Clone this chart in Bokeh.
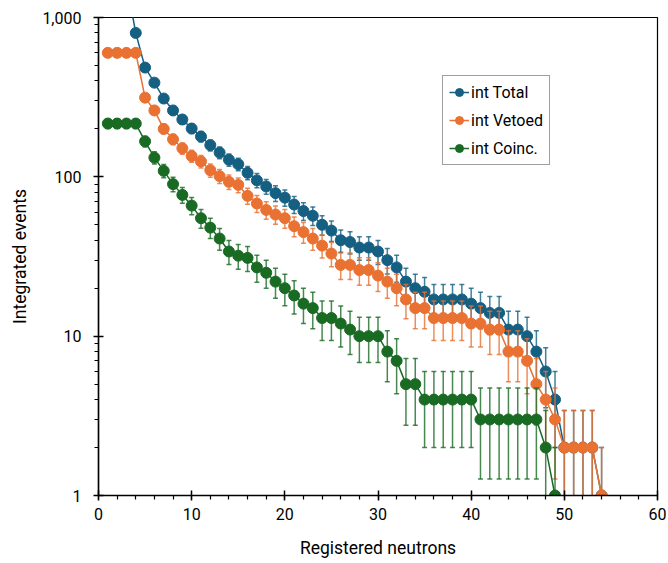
import math
from bokeh.plotting import figure
from bokeh.models import (ColumnDataSource, Range1d, SingleIntervalTicker, FixedTicker,
                          NumeralTickFormatter, Legend, LegendItem)
from bokeh.embed import file_html
from bokeh.resources import INLINE

# ---------------- data ----------------
x_total = list(range(1, 55))
total = [1650, 1650, 1650, 800, 485, 390, 310, 261, 229, 201,
         179, 158, 142, 128, 120, 106, 95, 87, 79, 74,
         67, 61, 57, 50, 46, 40, 39, 36, 36, 34,
         30, 27, 22, 20, 19, 17, 17, 17, 17, 16,
         15, 14, 14, 11, 11, 10, 8, 6, 4, 2,
         2, 2, 2, 1]

x_vetoed = list(range(1, 55))
vetoed = [600, 600, 600, 600, 314, 261, 200, 172, 151, 135,
          125, 110, 101, 93, 89, 76, 68, 62, 58, 55,
          49, 45, 41, 37, 33, 28, 28, 26, 26, 24,
          22, 20, 17, 15, 15, 13, 13, 13, 13, 12,
          12, 11, 11, 8, 8, 7, 5, 4, 3, 2,
          2, 2, 2, 1]

x_coinc = list(range(1, 50))
coinc = [216, 216, 216, 216, 167, 132, 109, 90, 77, 66,
         55, 48, 41, 34, 32, 31, 27, 25, 22, 20,
         18, 16, 15, 13, 13, 12, 11, 10, 10, 10,
         8, 7, 5, 5, 4, 4, 4, 4, 4, 4,
         3, 3, 3, 3, 3, 3, 3, 2, 1]

labels = ["int Total", "int Vetoed", "int Coinc."]
colors = ["#156082", "#E97132", "#196B24"]
y_ticks = [1, 10, 100, 1000]
x_tick_interval = 10

FONT = "Roboto"

p = figure(width=668, height=563, y_axis_type="log",
           x_range=Range1d(0, 60), y_range=Range1d(1, 1000),
           output_backend="svg", toolbar_location=None,
           min_border_left=98, min_border_right=11,
           min_border_top=17, min_border_bottom=68)
p.xgrid.visible = False
p.ygrid.visible = False
p.outline_line_color = "black"
p.outline_line_width = 1.2
p.background_fill_color = "white"
p.border_fill_color = "white"

# axes
p.xaxis.ticker = SingleIntervalTicker(interval=x_tick_interval, num_minor_ticks=5)
minor = [m * d for d in (1, 10, 100) for m in range(2, 10)]
p.yaxis.ticker = FixedTicker(ticks=y_ticks, minor_ticks=minor)
p.yaxis.formatter = NumeralTickFormatter(format="0,0")
for ax in (p.xaxis[0], p.yaxis[0]):
    ax.axis_line_color = "black"
    ax.axis_line_width = 1.5
    ax.major_tick_line_color = "black"
    ax.major_tick_line_width = 1.5
    ax.minor_tick_line_color = "black"
    ax.minor_tick_line_width = 1.2
    ax.major_tick_in = 5
    ax.major_tick_out = 5
    ax.minor_tick_in = 0
    ax.minor_tick_out = 4
    ax.major_label_text_font = FONT
    ax.major_label_text_font_size = "16px"
    ax.major_label_text_color = "black"
    ax.axis_label_text_font = FONT
    ax.axis_label_text_font_size = "17.5px"
    ax.axis_label_text_font_style = "normal"
    ax.axis_label_text_color = "black"
p.xaxis.axis_label = "Registered neutrons"
p.yaxis.axis_label = "Integrated events"
p.xaxis.major_label_standoff = 7
p.yaxis.major_label_standoff = 12
p.xaxis.axis_label_standoff = 15
p.yaxis.axis_label_standoff = 9

items = []
for xs, ys, lab, col in zip((x_total, x_vetoed, x_coinc), (total, vetoed, coinc), labels, colors):
    err = [math.sqrt(v) for v in ys]
    up = [v + e for v, e in zip(ys, err)]
    lo = [max(v - e, 0.01) for v, e in zip(ys, err)]
    src = ColumnDataSource(dict(x=xs, y=ys, up=up, lo=lo))
    ln = p.line("x", "y", source=src, line_color=col, line_width=1.5)
    p.segment("x", "lo", "x", "up", source=src, line_color=col, line_width=1.5, line_alpha=0.8)
    p.scatter("x", "up", source=src, marker="dash", size=5, line_color=col, line_width=1.5, line_alpha=0.8)
    p.scatter("x", "lo", source=src, marker="dash", size=5, line_color=col, line_width=1.5, line_alpha=0.8)
    sc = p.scatter("x", "y", source=src, size=11, fill_color=col, line_color=col)
    items.append(LegendItem(label=lab, renderers=[ln, sc]))

legend = Legend(items=items, location=(344, 330))
legend.border_line_color = "#404040"
legend.border_line_width = 1
legend.background_fill_color = "white"
legend.background_fill_alpha = 1
legend.label_text_font = FONT
legend.label_text_font_size = "16px"
legend.label_text_color = "black"
legend.glyph_width = 20
legend.glyph_height = 20
legend.label_height = 20
legend.spacing = 8
legend.padding = 6
legend.margin = 0
legend.label_standoff = 2
p.add_layout(legend)

open("out.html", "w").write(file_html(p, INLINE))
